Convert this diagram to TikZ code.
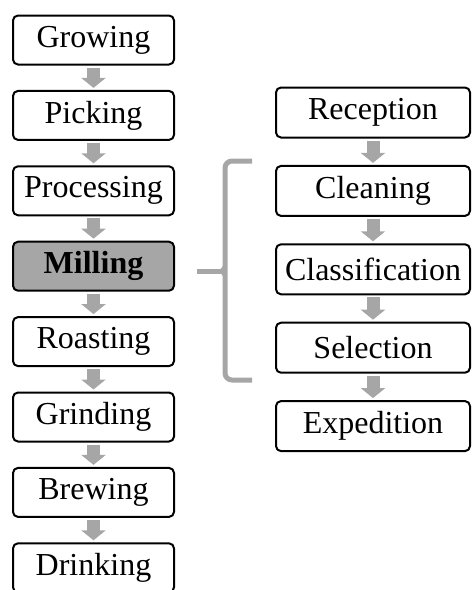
\documentclass[tikz,border=0pt]{standalone}
\usepackage{fontspec}
\setmainfont{Liberation Serif}
\usetikzlibrary{positioning,arrows.meta}
\definecolor{flowgray}{HTML}{A6A6A6}
\begin{document}
\begin{tikzpicture}
	[x=1pt,y=1pt,line join=round,line cap=round,
	stage/.style={draw,line width=2pt,rounded corners=5pt,minimum width=161pt,minimum height=49pt,inner sep=0pt,font=\fontsize{32}{36}\selectfont},
	substage/.style={stage,minimum width=194pt,minimum height=50pt},
	flow/.style={draw=flowgray,line width=13pt,line cap=butt,-{Triangle[width=24pt,length=10pt]},shorten <=2pt,shorten >=2pt},
	bracket/.style={draw=flowgray,line width=5pt,line cap=butt}]
	\useasboundingbox (0,0) rectangle (473,-590);
	\clip (0,0) rectangle (473,-590);
	% main chain
	\node[stage] (growing) at (93.5,-40) {Growing};
	\node[stage,below=24.4pt of growing] (picking) {Picking};
	\node[stage,below=24.4pt of picking] (processing) {Processing};
	\node[stage,below=24.4pt of processing,fill=flowgray,font=\fontsize{32}{36}\selectfont\bfseries] (milling) {Milling};
	\node[stage,below=24.4pt of milling] (roasting) {Roasting};
	\node[stage,below=24.4pt of roasting] (grinding) {Grinding};
	\node[stage,below=24.4pt of grinding] (brewing) {Brewing};
	\node[stage,below=24.4pt of brewing] (drinking) {Drinking};
	% milling steps
	\node[substage] (reception) at (373,-112.5) {Reception};
	\node[substage,below=26.4pt of reception] (cleaning) {Cleaning};
	\node[substage,below=26.4pt of cleaning] (classification) {Classification};
	\node[substage,below=26.4pt of classification] (selection) {Selection};
	\node[substage,below=26.4pt of selection] (expedition) {Expedition};
	\foreach \a/\b in {growing/picking,picking/processing,processing/milling,milling/roasting,roasting/grinding,grinding/brewing,brewing/drinking,reception/cleaning,cleaning/classification,classification/selection,selection/expedition}
		\draw[flow] (\a) -- (\b);
	% brace
	\draw[bracket,rounded corners=7pt] (252,-161) -| (225,-271) |- (252,-380);
	\draw[bracket] (197,-271) -- (225,-271);
	\draw[bracket,line width=3pt] (214,-271) .. controls (222,-271) .. (225,-265)
		(214,-271) .. controls (222,-271) .. (225,-277);
\end{tikzpicture}
\end{document}
